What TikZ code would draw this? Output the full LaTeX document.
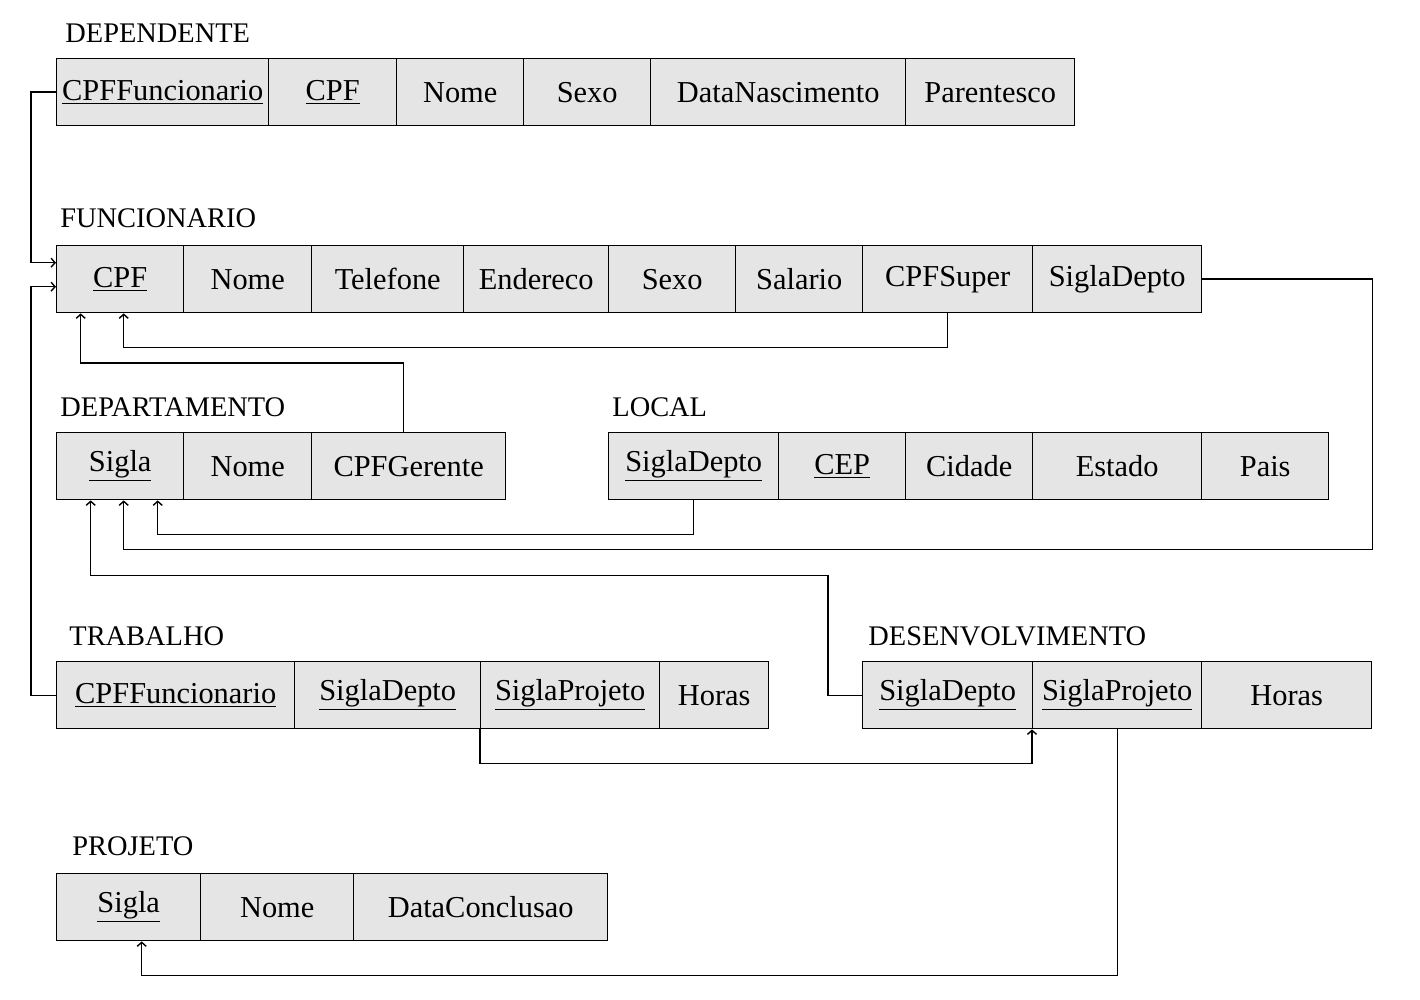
\documentclass[tikz,border=0pt]{standalone}
\usepackage{fontspec}
\setmainfont{Liberation Serif}
\usetikzlibrary{calc,arrows.meta}
\tikzset{
  cell/.style={draw=black, fill=gray!20, line width=0.7pt, rectangle, inner sep=0pt,
    minimum height=33.5pt, anchor=north west, font=\fontsize{15.2}{18}\selectfont},
  ttl/.style={anchor=base west, inner sep=0pt, font=\fontsize{14.2}{17}\selectfont},
  conn/.style={draw=black, line width=0.7pt, -{Straight Barb[length=2pt,width=4.5pt]}},
}
\newcommand{\rcell}[5]{%
  \pgfmathsetmacro\cw{(#3-#2)*0.5}%
  \node[cell, minimum width=\cw pt] (#1) at (#2,#4) {#5};}
\newcommand{\ul}[1]{\underline{#1}}
\begin{document}
\begin{tikzpicture}[x=0.5pt,y=-0.5pt]
\path[use as bounding box] (0,0) rectangle (1420,1000);
% DEPENDENTE
\node[ttl] (t-dep) at (65,43) {DEPENDENTE};
\rcell{dep-cpff}{56}{268}{58}{\ul{CPFFuncionario}}
\rcell{dep-cpf}{268}{396}{58}{\ul{CPF}}
\rcell{dep-nom}{396}{523}{58}{Nome}
\rcell{dep-sex}{523}{650}{58}{Sexo}
\rcell{dep-dat}{650}{905}{58}{DataNascimento}
\rcell{dep-par}{905}{1074}{58}{Parentesco}
% FUNCIONARIO
\node[ttl] (t-fun) at (60,228) {FUNCIONARIO};
\rcell{fun-cpf}{56}{183}{245}{\ul{CPF}}
\rcell{fun-nom}{183}{311}{245}{Nome}
\rcell{fun-tel}{311}{463}{245}{Telefone}
\rcell{fun-end}{463}{608}{245}{Endereco}
\rcell{fun-sex}{608}{735}{245}{Sexo}
\rcell{fun-sal}{735}{862}{245}{Salario}
\rcell{fun-cpfs}{862}{1032}{245}{CPFSuper}
\rcell{fun-sig}{1032}{1201}{245}{SiglaDepto}
% DEPARTAMENTO
\node[ttl] (t-dpt) at (60,416) {DEPARTAMENTO};
\rcell{dpt-sig}{56}{183}{432}{\ul{Sigla}}
\rcell{dpt-nom}{183}{311}{432}{Nome}
\rcell{dpt-ger}{311}{505}{432}{CPFGerente}
% LOCAL
\node[ttl] (t-loc) at (612,416) {LOCAL};
\rcell{loc-sig}{608}{778}{432}{\ul{SiglaDepto}}
\rcell{loc-cep}{778}{905}{432}{\ul{CEP}}
\rcell{loc-cid}{905}{1032}{432}{Cidade}
\rcell{loc-est}{1032}{1201}{432}{Estado}
\rcell{loc-pai}{1201}{1328}{432}{Pais}
% TRABALHO
\node[ttl] (t-tra) at (69,645) {TRABALHO};
\rcell{tra-cpff}{56}{294}{661}{\ul{CPFFuncionario}}
\rcell{tra-sig}{294}{480}{661}{\ul{SiglaDepto}}
\rcell{tra-spr}{480}{659}{661}{\ul{SiglaProjeto}}
\rcell{tra-hor}{659}{768}{661}{Horas}
% DESENVOLVIMENTO
\node[ttl] (t-des) at (868,645) {DESENVOLVIMENTO};
\rcell{des-sig}{862}{1032}{661}{\ul{SiglaDepto}}
\rcell{des-spr}{1032}{1201}{661}{\ul{SiglaProjeto}}
\rcell{des-hor}{1201}{1371}{661}{Horas}
% PROJETO
\node[ttl] (t-pro) at (72,855) {PROJETO};
\rcell{pro-sig}{56}{200}{873}{\ul{Sigla}}
\rcell{pro-nom}{200}{353}{873}{Nome}
\rcell{pro-dat}{353}{607}{873}{DataConclusao}
% connectors
\draw[conn] (dep-cpff.west) -- ++(-25,0) |- ($(fun-cpf.west)+(0,-16.5)$);
\draw[conn] (tra-cpff.west) -- ++(-25,0) |- ($(fun-cpf.west)+(0,7.5)$);
\draw[conn] (fun-cpfs.south) -- ++(0,34) -| ($(fun-cpf.south)+(3.5,0)$);
\draw[conn] ($(dpt-ger.north)+(-5,0)$) -- ++(0,-69) -| ($(fun-cpf.south)+(-39.5,0)$);
\draw[conn] (loc-sig.south) -- ++(0,34) -| ($(dpt-sig.south)+(37.5,0)$);
\draw[conn] (fun-sig.east) -- ++(170,0) -- ++(0,270.5) -| ($(dpt-sig.south)+(3.5,0)$);
\draw[conn] (des-sig.west) -- ++(-34,0) -- ++(0,-119.5) -| ($(dpt-sig.south)+(-29.5,0)$);
\draw[conn] (tra-spr.south west) -- ++(0,34) -| (des-spr.south west);
\draw[conn] (des-spr.south) -- ++(0,246) -| ($(pro-sig.south)+(13,0)$);
\end{tikzpicture}
\end{document}
